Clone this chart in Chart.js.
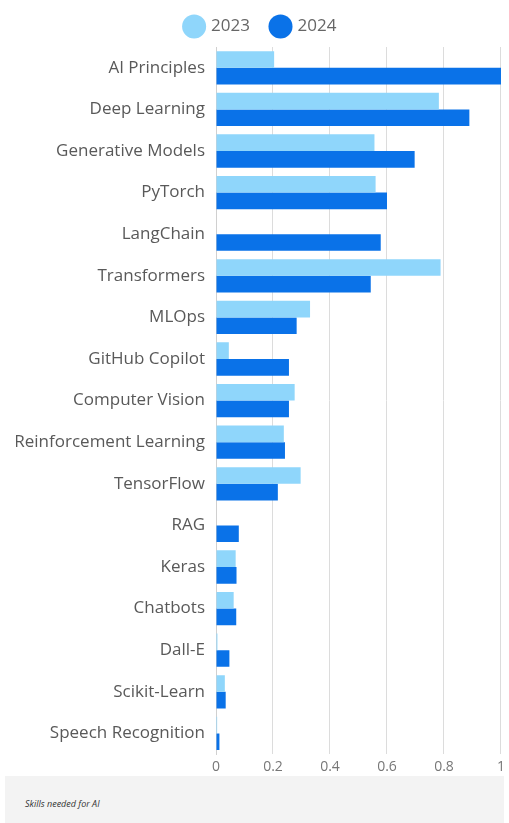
<!DOCTYPE html>
<html>
<head>
<meta charset="utf-8">
<script src="https://cdn.jsdelivr.net/npm/chart.js@4"></script>
<style>
  body { margin: 0; background: #fff; font-family: "Open Sans", sans-serif; }
  #wrap { position: relative; width: 509px; height: 779px; }
  #note { margin: -3px 5px 0 5px; height: 47px; background: #f3f3f3; position: relative; }
  #note span { position: absolute; left: 20px; top: 21px; font-size: 9px; font-style: italic; color: #333; }
</style>
</head>
<body>
<div id="wrap"><canvas id="chart"></canvas></div>
<div id="note"><span>Skills needed for AI</span></div>
<script>
var skills = ["AI Principles", "Deep Learning", "Generative Models", "PyTorch", "LangChain",
    "Transformers", "MLOps", "GitHub Copilot", "Computer Vision", "Reinforcement Learning",
    "TensorFlow", "RAG", "Keras", "Chatbots", "Dall-E", "Scikit-Learn", "Speech Recognition"];
var values2023 = [0.204, 0.782, 0.556, 0.56, 0, 0.788, 0.33, 0.045, 0.276, 0.238, 0.297, 0, 0.069, 0.062, 0.005, 0.031, 0.004];
var values2024 = [1.0, 0.889, 0.697, 0.60, 0.578, 0.543, 0.283, 0.256, 0.256, 0.242, 0.217, 0.080, 0.072, 0.071, 0.047, 0.034, 0.012];
var xTicks = [0, 0.2, 0.4, 0.6, 0.8, 1];

// extra room under the legend
var legendGap = {
    id: "legendGap",
    beforeInit: function(chart) {
        var fit = chart.legend.fit;
        chart.legend.fit = function() {
            fit.bind(chart.legend)();
            this.height += 2;
        };
    }
};

var ctx = document.getElementById("chart");
new Chart(ctx, {
    type: "bar",
    data: {
        labels: skills,
        datasets: [
            { label: "2023", data: values2023, backgroundColor: "#8fd6fb", categoryPercentage: 0.8, barPercentage: 1.0 },
            { label: "2024", data: values2024, backgroundColor: "#0a72e8", categoryPercentage: 0.8, barPercentage: 1.0 }
        ]
    },
    options: {
        indexAxis: "y",
        responsive: true,
        maintainAspectRatio: false,
        animation: false,
        layout: { padding: { top: -4, right: 3, left: 16, bottom: 0 } },
        plugins: {
            legend: {
                position: "top",
                labels: {
                    usePointStyle: true, pointStyle: "circle", boxWidth: 19, boxHeight: 19,
                    padding: 22, color: "#666", font: { family: "Open Sans", size: 17 }
                }
            },
            tooltip: { enabled: false }
        },
        scales: {
            x: {
                min: 0, max: 1,
                afterBuildTicks: function(axis) { axis.ticks = xTicks.map(function(v) { return { value: v }; }); },
                grid: { color: "#dcdcdc", drawTicks: false },
                border: { display: false },
                ticks: {
                    color: "#777", padding: 4, font: { family: "Open Sans", size: 14 },
                    callback: function(v) { return String(v); }
                }
            },
            y: {
                afterFit: function(axis) { axis.width = 200; },
                grid: { display: false },
                border: { color: "#d0d0d0" },
                ticks: { color: "#595959", padding: 3, font: { family: "Open Sans", size: 17 } }
            }
        }
    },
    plugins: [legendGap]
});
</script>
</body>
</html>
